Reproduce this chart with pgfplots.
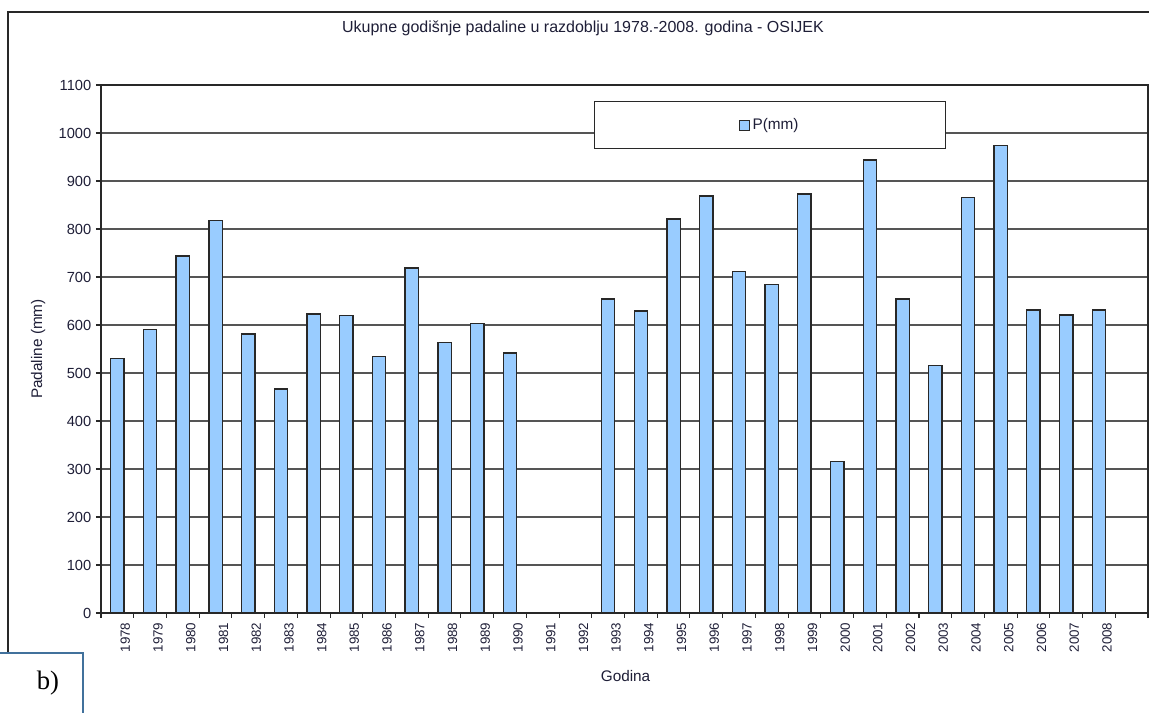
\documentclass[border=0pt]{standalone}
\usepackage{fontspec}
\setmainfont{Liberation Sans}
\newfontfamily\serifb{Liberation Serif}
\usepackage{pgfplots}
\pgfplotsset{compat=1.18}
\usepackage{pgfplotstable}

\definecolor{barfill}{RGB}{153,204,255}
\definecolor{edge}{RGB}{40,40,40}
\definecolor{gridc}{RGB}{85,85,85}
\definecolor{txt}{RGB}{30,30,55}
\definecolor{boxblue}{RGB}{65,113,156}

% annual precipitation, Osijek (1991 and 1992 missing)
\pgfplotstableread{
x year p
0 1978 530
1 1979 590
2 1980 744
3 1981 817
4 1982 581
5 1983 467
6 1984 623
7 1985 620
8 1986 535
9 1987 719
10 1988 564
11 1989 603
12 1990 542
15 1993 654
16 1994 629
17 1995 821
18 1996 869
19 1997 711
20 1998 685
21 1999 873
22 2000 315
23 2001 944
24 2002 654
25 2003 516
26 2004 866
27 2005 974
28 2006 631
29 2007 621
30 2008 631
}\rain

\begin{document}
\begin{tikzpicture}
\useasboundingbox (0,0) rectangle (861.75pt,534.75pt);
\clip (0,0) rectangle (861.75pt,534.75pt);
% outer frame of the figure
\draw[edge, line width=1.1pt] (6pt,-10pt) |- (900pt,525.75pt);
\node[txt, font=\fontsize{12}{14}\selectfont] at (437.25pt,513.75pt)
  {Ukupne godišnje padaline u razdoblju 1978.-2008. godina - OSIJEK};
\begin{axis}[
  at={(75.75pt,75pt)}, anchor=south west,
  scale only axis, width=785.25pt, height=396pt,
  xmin=-0.5, xmax=31.5, ymin=0, ymax=1100,
  ytick={0,100,...,1100},
  xtick={0,...,30},
  xticklabels={1978,1979,1980,1981,1982,1983,1984,1985,1986,1987,1988,1989,1990,
    1991,1992,1993,1994,1995,1996,1997,1998,1999,2000,2001,2002,2003,2004,2005,
    2006,2007,2008},
  minor xtick={-0.5,0.5,...,31.5},
  major x tick style={draw=none},
  tick align=outside, tick pos=left,
  major tick length=3.75pt, minor tick length=3.75pt,
  ymajorgrids, grid style={gridc, line width=0.9pt},
  axis line style={edge, line width=0.8pt},
  tick style={edge, line width=0.8pt},
  /pgf/number format/1000 sep={},
  /pgf/number format/assume math mode=true,
  yticklabel style={txt, font=\fontsize{11}{13}\selectfont},
  xticklabel style={txt, font=\fontsize{10}{12}\selectfont, rotate=90, anchor=east, yshift=-6pt},
  ylabel={Padaline (mm)},
  ylabel style={at={(axis description cs:-0.060,0.5)}, anchor=center, txt, font=\fontsize{11.5}{13}\selectfont},
  xlabel={Godina},
  xlabel style={at={(axis description cs:0.501,-0.119)}, anchor=center, txt, font=\fontsize{11.5}{13}\selectfont},
  legend style={at={(0.639,0.924)}, anchor=center, draw=edge, line width=0.9pt, fill=white,
    inner xsep=108pt, inner ysep=10.5pt, font=\fontsize{11.5}{13}\selectfont, text=txt},
  legend image code/.code={\draw[#1, line width=0.8pt] (0pt,-3.75pt) rectangle (7.5pt,3.75pt);},
]
\addplot[ybar, bar width=10pt, fill=barfill, draw=edge, line width=1pt] table[x=x, y=p]{\rain};
\addlegendentry{P(mm)}
\end{axis}
% panel letter box
\draw[boxblue, line width=1.5pt, fill=white] (-5pt,-5pt) rectangle (62.25pt,45pt);
\node[font=\serifb\fontsize{20}{22}\selectfont] at (36pt,22.5pt) {b)};
\end{tikzpicture}
\end{document}
